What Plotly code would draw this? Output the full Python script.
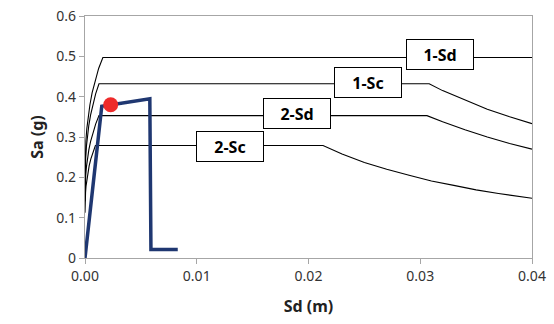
import plotly.graph_objects as go

# Demand spectra (ADRS)
sd_1Sd = [0, 0.00001, 0.00003, 0.00008, 0.00016, 0.00028, 0.00044, 0.00064, 0.0009, 0.00122, 0.0016, 0.04]
sa_1Sd = [0.2, 0.23, 0.26, 0.29, 0.32, 0.35, 0.38, 0.41, 0.44, 0.47, 0.497, 0.497]

sd_1Sc = [0, 0.000006, 0.000026, 0.000065, 0.000128, 0.000219, 0.000342, 0.000502, 0.000704, 0.000952, 0.00125,
          0.0308, 0.032, 0.034, 0.036, 0.038, 0.04]
sa_1Sc = [0.173, 0.199, 0.225, 0.251, 0.277, 0.303, 0.329, 0.355, 0.381, 0.407, 0.432,
          0.432, 0.415, 0.391, 0.369, 0.35, 0.333]

sd_2Sd = [0, 0.000006, 0.000026, 0.000065, 0.000128, 0.000219, 0.000342, 0.000502, 0.000704, 0.000952, 0.00125,
          0.0306, 0.032, 0.034, 0.036, 0.038, 0.04]
sa_2Sd = [0.141, 0.162, 0.184, 0.205, 0.226, 0.247, 0.268, 0.289, 0.311, 0.332, 0.353,
          0.353, 0.338, 0.318, 0.300, 0.284, 0.270]

sd_2Sc = [0, 0.000004, 0.000019, 0.000049, 0.000095, 0.000163, 0.000254, 0.000374, 0.000524, 0.000708, 0.00093,
          0.0213, 0.023, 0.025, 0.027, 0.029, 0.031, 0.033, 0.035, 0.037, 0.04]
sa_2Sc = [0.112, 0.128, 0.145, 0.162, 0.179, 0.195, 0.212, 0.229, 0.246, 0.262, 0.279,
          0.279, 0.258, 0.237, 0.220, 0.205, 0.191, 0.180, 0.169, 0.160, 0.148]

# Capacity spectrum
sd_cap = [0, 0.0015, 0.0058, 0.0059, 0.0083]
sa_cap = [0, 0.376, 0.395, 0.021, 0.021]

# Performance point
sd_pp = [0.0023]
sa_pp = [0.380]

# Labels
lab_text = ["1-Sd", "1-Sc", "2-Sd", "2-Sc"]
lab_sd = [0.0318, 0.0253, 0.0190, 0.0130]
lab_sa = [0.505, 0.434, 0.358, 0.2765]

fig = go.Figure()
for xs, ys in [(sd_1Sd, sa_1Sd), (sd_1Sc, sa_1Sc), (sd_2Sd, sa_2Sd), (sd_2Sc, sa_2Sc)]:
    fig.add_trace(go.Scatter(x=xs, y=ys, mode="lines", line=dict(color="black", width=1.1),
                             showlegend=False, hoverinfo="skip"))
fig.add_trace(go.Scatter(x=sd_cap, y=sa_cap, mode="lines", line=dict(color="#1f3771", width=3.5),
                         showlegend=False))
fig.add_trace(go.Scatter(x=sd_pp, y=sa_pp, mode="markers",
                         marker=dict(color="#ee2b2b", size=15, line=dict(width=0)), showlegend=False))

for t, x, y in zip(lab_text, lab_sd, lab_sa):
    fig.add_annotation(x=x, y=y, text="<b>%s</b>" % t, showarrow=False,
                       font=dict(family="Noto Sans", size=16, color="black"),
                       bgcolor="white", bordercolor="black", borderwidth=1, borderpad=2,
                       width=62, height=25)

axis_common = dict(showgrid=False, zeroline=False, showline=True, linecolor="#a6a6a6", linewidth=1.2,
                   mirror=True, ticks="outside", ticklen=5, tickcolor="#a6a6a6", automargin=False,
                   ticklabeloverflow="allow",
                   tickfont=dict(family="Noto Sans", size=14, color="#333333"))

fig.update_layout(
    width=554, height=324,
    margin=dict(l=85, r=22, t=16, b=66),
    plot_bgcolor="white", paper_bgcolor="white",
    xaxis=dict(range=[0, 0.04], tickvals=[0, 0.01, 0.02, 0.03, 0.04], tickformat=".2f",
               title=dict(text="<b>Sd (m)</b>", font=dict(family="Noto Sans", size=16, color="#222222"), standoff=16),
               **axis_common),
    yaxis=dict(range=[0, 0.6], tickvals=[0, 0.1, 0.2, 0.3, 0.4, 0.5, 0.6],
               ticktext=["0", "0.1", "0.2", "0.3", "0.4", "0.5", "0.6"],
               title=dict(text="<b>Sa (g)</b>", font=dict(family="Noto Sans", size=16, color="#222222"), standoff=8),
               **axis_common),
)

fig.write_html("out.html", config={"displayModeBar": False},
               post_script="document.body.style.margin='0';")
